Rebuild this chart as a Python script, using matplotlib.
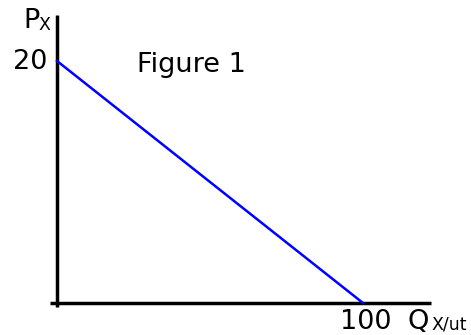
import matplotlib
matplotlib.use("Agg")
import matplotlib.pyplot as plt

# Demand curve: price P_X against quantity Q_X per unit time
quantity = [0, 100]
price = [20, 0]

fig = plt.figure(figsize=(4.71, 3.35), dpi=100)
ax = fig.add_axes([0, 0, 1, 1])
ax.set_xlim(-18.63, 135.3)
ax.set_ylim(-2.645, 25.04)
ax.axis("off")

# hand-drawn style axes
ax.plot([0, 0], [-0.33, 23.8], color="black", lw=2.5, solid_capstyle="butt")
ax.plot([-2.29, 122.2], [0, 0], color="black", lw=2.5, solid_capstyle="butt")

ax.plot(quantity, price, color="#0000ff", lw=1.8)

fs = 19.5
sub = 12.5
ax.text(-3.3, 19.34, "20", fontsize=fs, ha="right", va="baseline")
ax.text(26.1, 19.09, "Figure 1", fontsize=fs, ha="left", va="baseline")
ax.text(92.5, -2.19, "100", fontsize=fs, ha="left", va="baseline")

# axis titles with subscripts
ax.text(114.6, -2.15, "Q", fontsize=fs, ha="left", va="baseline")
ax.text(122.3, -2.23, "X/ut", fontsize=sub, ha="left", va="baseline")
ax.text(-11.1, 22.73, "P", fontsize=fs, ha="left", va="baseline")
ax.text(-5.9, 22.56, "X", fontsize=sub, ha="left", va="baseline")

fig.savefig("out.png", dpi=100)
